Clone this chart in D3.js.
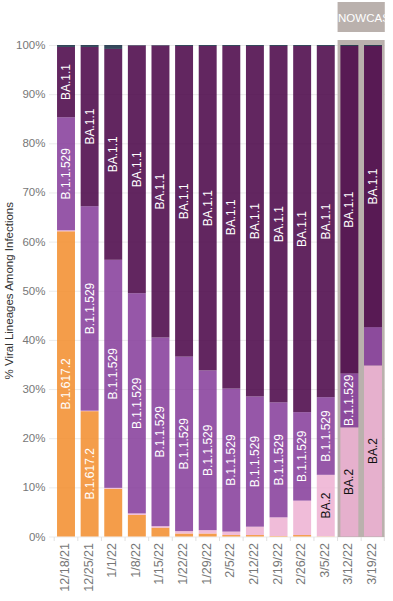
<!DOCTYPE html>
<meta charset="utf-8">
<style>
  body { margin: 0; background: #fff; }
  svg { display: block; font-family: "Liberation Sans", Arial, sans-serif; }
</style>
<svg width="393" height="601"></svg>
<script src="https://cdn.jsdelivr.net/npm/d3@7"></script>
<script>
// weekly share of lineages (%), stacked bottom to top
var weeks = ["12/18/21", "12/25/21", "1/1/22", "1/8/22", "1/15/22", "1/22/22", "1/29/22",
             "2/5/22", "2/12/22", "2/19/22", "2/26/22", "3/5/22", "3/12/22", "3/19/22"];
var nowcastWeeks = ["3/12/22", "3/19/22"];
var delta = [62.1, 25.5, 9.7, 4.4, 1.8, 0.6, 0.6, 0.3, 0.3, 0.1, 0.3, 0.05, 0, 0];
var ba2   = [0.2, 0.1, 0.2, 0.3, 0.3, 0.5, 0.7, 0.7, 1.7, 3.8, 7.0, 12.5, 22.2, 34.8];
var b529  = [23.0, 41.6, 46.4, 44.8, 38.4, 35.5, 32.5, 29.1, 26.5, 23.4, 18.0, 15.8, 11.0, 7.8];
var ba11  = [14.3, 32.4, 42.9, 50.4, 59.4, 63.2, 66.0, 69.7, 71.3, 72.5, 74.5, 71.45, 66.6, 57.2];
var other = [0.4, 0.4, 0.8, 0.1, 0.1, 0.2, 0.2, 0.2, 0.2, 0.2, 0.2, 0.2, 0.2, 0.2];
var yTicks = [0, 10, 20, 30, 40, 50, 60, 70, 80, 90, 100];

var keys = ["B.1.617.2", "BA.2", "B.1.1.529", "BA.1.1", "Other"];
var series = [delta, ba2, b529, ba11, other];
var color = {"B.1.617.2": "#f28c2a", "BA.2": "#edb0d2", "B.1.1.529": "#843a99",
             "BA.1.1": "#460044", "Other": "#12293f"};
var labelColor = {"BA.2": "#111"};

var rows = weeks.map(function(w, i) {
  var r = {week: w};
  keys.forEach(function(k, j) { r[k] = series[j][i]; });
  return r;
});

var svg = d3.select("svg");

var x = d3.scaleBand().domain(weeks).range([54.2, 384.8])
    .paddingInner(0.24).paddingOuter(0.12);
var y = d3.scaleLinear().domain([0, 100]).range([536.5, 45]);

var clip = svg.append("defs").append("clipPath").attr("id", "clip")
  .append("rect").attr("x", 0).attr("y", 0).attr("width", 384.8).attr("height", 601);

var root = svg.append("g").attr("clip-path", "url(#clip)");

// gridlines + y labels
root.selectAll(".grid").data(yTicks).enter().append("line")
  .attr("x1", 49).attr("x2", 384.8)
  .attr("y1", function(d) { return y(d) + 0.5; })
  .attr("y2", function(d) { return y(d) + 0.5; })
  .attr("stroke", "#ebebeb").attr("stroke-width", 1);

svg.selectAll(".ylab").data(yTicks).enter().append("text")
  .attr("x", 45.5).attr("y", function(d) { return y(d); })
  .attr("text-anchor", "end").attr("dominant-baseline", "central")
  .attr("font-size", 11.5).attr("fill", "#777")
  .text(function(d) { return d + "%"; });

svg.append("text")
  .attr("transform", "translate(9," + ((y(0) + y(100)) / 2) + ") rotate(-90)")
  .attr("text-anchor", "middle").attr("dominant-baseline", "central")
  .attr("font-size", 11.5).attr("fill", "#333")
  .text("% Viral Lineages Among Infections");

// nowcast shading
var step = x.step();
var nx0 = x(nowcastWeeks[0]) - step * x.paddingInner() / 2;
root.append("rect")
  .attr("x", nx0).attr("y", y(100) - 5)
  .attr("width", 384.8 - nx0).attr("height", y(0) - y(100) + 5.5)
  .attr("fill", "#bab1ad");
root.append("rect")
  .attr("x", nx0).attr("y", 2).attr("width", 60).attr("height", 30)
  .attr("fill", "#bab1ad");
root.append("text")
  .attr("x", nx0 + 0.5).attr("y", 17.5)
  .attr("dominant-baseline", "central")
  .attr("font-size", 11.5).attr("fill", "#fff")
  .text("NOWCAST");

// bars
var stacked = d3.stack().keys(keys)(rows);

var layer = root.selectAll(".layer").data(stacked).enter().append("g")
  .attr("fill", function(d) { return color[d.key]; })
  .attr("fill-opacity", 0.85);

layer.selectAll("rect").data(function(d) { return d; }).enter().append("rect")
  .attr("x", function(d) { return x(d.data.week); })
  .attr("width", x.bandwidth())
  .attr("y", function(d) { return y(d[1]); })
  .attr("height", function(d) { return y(d[0]) - y(d[1]); });

// segment labels
stacked.forEach(function(s) {
  root.selectAll(null).data(s.filter(function(d) { return d[1] - d[0] >= 10; }))
    .enter().append("text")
    .attr("transform", function(d) {
      var cx = x(d.data.week) + x.bandwidth() / 2;
      var cy = (y(d[0]) + y(d[1])) / 2;
      return "translate(" + cx + "," + cy + ") rotate(-90)";
    })
    .attr("text-anchor", "middle").attr("dominant-baseline", "central")
    .attr("font-size", 12)
    .attr("fill", labelColor[s.key] || "#fff")
    .text(s.key);
});

// x axis ticks and labels
var bounds = weeks.map(function(w) { return x(w) - step * x.paddingInner() / 2; });
bounds.push(384.8 - 0.5);
svg.selectAll(".xtick").data(bounds).enter().append("line")
  .attr("x1", function(d) { return d; }).attr("x2", function(d) { return d; })
  .attr("y1", 537).attr("y2", 541)
  .attr("stroke", "#e0e0e0");

svg.selectAll(".xlab").data(weeks).enter().append("text")
  .attr("transform", function(d) {
    return "translate(" + (x(d) + x.bandwidth() / 2 - 1) + ",543) rotate(-90)";
  })
  .attr("text-anchor", "end").attr("dominant-baseline", "central")
  .attr("font-size", 12.5).attr("fill", "#777")
  .text(function(d) { return d; });
</script>
